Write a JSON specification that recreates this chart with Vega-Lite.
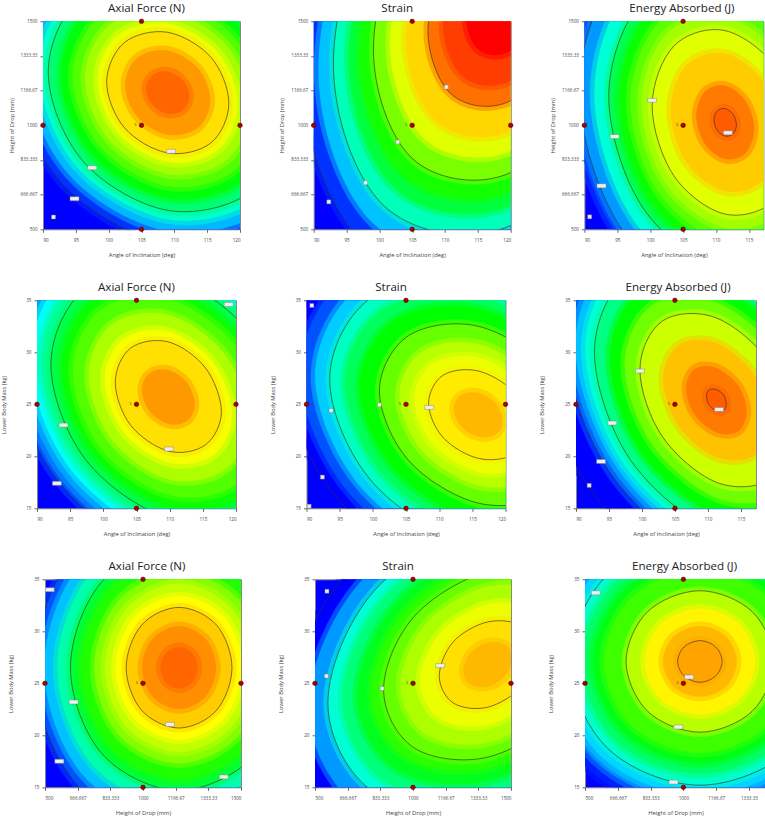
{"$schema":"https://vega.github.io/schema/vega-lite/v6.json","padding":{"left":0,"top":1.3,"right":0,"bottom":0},"spacing":22,
"config":{"view":{"fill":"#0000ff","stroke":"#888"},"title":{"font":"Open Sans","fontSize":11.6,"fontWeight":"normal","color":"#222","offset":4},"axis":{"grid":false,"labelFont":"Open Sans","labelFontSize":4.6,"labelColor":"#444","titleFont":"Open Sans","titleFontSize":5.8,"titleFontWeight":"normal","titleColor":"#444","tickSize":3,"tickColor":"#666","domain":false,"labelPadding":3,"labelAngle":0},"axisX":{"labelPadding":5,"titlePadding":10}},
"datasets":{
"p1":[
{"v":0.05,"x":132.3,"y":1029},{"v":0.05,"x":125.5,"y":1579},{"v":0.05,"x":109,"y":1882},{"v":0.05,"x":92.5,"y":1760},{"v":0.05,"x":85.7,"y":1285},{"v":0.05,"x":92.5,"y":735},{"v":0.05,"x":109,"y":432},{"v":0.05,"x":125.5,"y":555},
{"v":0.18,"x":130.5,"y":1040},{"v":0.18,"x":124.2,"y":1546},{"v":0.18,"x":109,"y":1824},{"v":0.18,"x":93.8,"y":1711},{"v":0.18,"x":87.5,"y":1274},{"v":0.18,"x":93.8,"y":768},{"v":0.18,"x":109,"y":490},{"v":0.18,"x":124.2,"y":603},
{"v":0.3,"x":128.6,"y":1050},{"v":0.3,"x":122.9,"y":1512},{"v":0.3,"x":109,"y":1766},{"v":0.3,"x":95.1,"y":1663},{"v":0.3,"x":89.4,"y":1264},{"v":0.3,"x":95.1,"y":802},{"v":0.3,"x":109,"y":548},{"v":0.3,"x":122.9,"y":651},
{"v":0.39,"x":127.2,"y":1058},{"v":0.39,"x":121.9,"y":1487},{"v":0.39,"x":109,"y":1723},{"v":0.39,"x":96.1,"y":1627},{"v":0.39,"x":90.8,"y":1256},{"v":0.39,"x":96.1,"y":827},{"v":0.39,"x":109,"y":591},{"v":0.39,"x":121.9,"y":687},
{"v":0.49,"x":125.3,"y":1068},{"v":0.49,"x":120.6,"y":1453},{"v":0.49,"x":109,"y":1665},{"v":0.49,"x":97.4,"y":1579},{"v":0.49,"x":92.7,"y":1246},{"v":0.49,"x":97.4,"y":861},{"v":0.49,"x":109,"y":649},{"v":0.49,"x":120.6,"y":735},
{"v":0.58,"x":123.5,"y":1078},{"v":0.58,"x":119.2,"y":1419},{"v":0.58,"x":109,"y":1607},{"v":0.58,"x":98.8,"y":1531},{"v":0.58,"x":94.5,"y":1236},{"v":0.58,"x":98.8,"y":895},{"v":0.58,"x":109,"y":707},{"v":0.58,"x":119.2,"y":783},
{"v":0.66,"x":121.6,"y":1088},{"v":0.66,"x":117.9,"y":1385},{"v":0.66,"x":109,"y":1549},{"v":0.66,"x":100.1,"y":1482},{"v":0.66,"x":96.4,"y":1226},{"v":0.66,"x":100.1,"y":929},{"v":0.66,"x":109,"y":765},{"v":0.66,"x":117.9,"y":832},
{"v":0.73,"x":119.7,"y":1098},{"v":0.73,"x":116.6,"y":1351},{"v":0.73,"x":109,"y":1491},{"v":0.73,"x":101.4,"y":1434},{"v":0.73,"x":98.3,"y":1216},{"v":0.73,"x":101.4,"y":963},{"v":0.73,"x":109,"y":823},{"v":0.73,"x":116.6,"y":880},
{"v":0.78,"x":118.3,"y":1106},{"v":0.78,"x":115.6,"y":1326},{"v":0.78,"x":109,"y":1447},{"v":0.78,"x":102.4,"y":1398},{"v":0.78,"x":99.7,"y":1208},{"v":0.78,"x":102.4,"y":988},{"v":0.78,"x":109,"y":867},{"v":0.78,"x":115.6,"y":916},
{"v":0.85,"x":115.5,"y":1121},{"v":0.85,"x":113.6,"y":1275},{"v":0.85,"x":109,"y":1360},{"v":0.85,"x":104.4,"y":1326},{"v":0.85,"x":102.5,"y":1193},{"v":0.85,"x":104.4,"y":1039},{"v":0.85,"x":109,"y":954},{"v":0.85,"x":113.6,"y":988},
{"v":0.9,"x":112.3,"y":1139},{"v":0.9,"x":111.3,"y":1216},{"v":0.9,"x":109,"y":1259},{"v":0.9,"x":106.7,"y":1241},{"v":0.9,"x":105.7,"y":1175},{"v":0.9,"x":106.7,"y":1098},{"v":0.9,"x":109,"y":1055},{"v":0.9,"x":111.3,"y":1073}],
"p2":[
{"v":0.05,"x":149.7,"y":1923},{"v":0.05,"x":140.7,"y":2724},{"v":0.05,"x":119,"y":2853},{"v":0.05,"x":97.3,"y":2241},{"v":0.05,"x":88.3,"y":1245},{"v":0.05,"x":97.3,"y":444},{"v":0.05,"x":119,"y":315},{"v":0.05,"x":140.7,"y":927},
{"v":0.19,"x":147.3,"y":1898},{"v":0.19,"x":139,"y":2638},{"v":0.19,"x":119,"y":2758},{"v":0.19,"x":99,"y":2192},{"v":0.19,"x":90.7,"y":1270},{"v":0.19,"x":99,"y":530},{"v":0.19,"x":119,"y":410},{"v":0.19,"x":139,"y":976},
{"v":0.32,"x":145,"y":1872},{"v":0.32,"x":137.4,"y":2552},{"v":0.32,"x":119,"y":2662},{"v":0.32,"x":100.6,"y":2142},{"v":0.32,"x":93,"y":1296},{"v":0.32,"x":100.6,"y":616},{"v":0.32,"x":119,"y":506},{"v":0.32,"x":137.4,"y":1026},
{"v":0.44,"x":142.7,"y":1846},{"v":0.44,"x":135.8,"y":2466},{"v":0.44,"x":119,"y":2566},{"v":0.44,"x":102.2,"y":2092},{"v":0.44,"x":95.3,"y":1322},{"v":0.44,"x":102.2,"y":702},{"v":0.44,"x":119,"y":602},{"v":0.44,"x":135.8,"y":1076},
{"v":0.52,"x":141,"y":1827},{"v":0.52,"x":134.5,"y":2401},{"v":0.52,"x":119,"y":2494},{"v":0.52,"x":103.5,"y":2055},{"v":0.52,"x":97,"y":1341},{"v":0.52,"x":103.5,"y":767},{"v":0.52,"x":119,"y":674},{"v":0.52,"x":134.5,"y":1113},
{"v":0.62,"x":138.9,"y":1804},{"v":0.62,"x":133.1,"y":2324},{"v":0.62,"x":119,"y":2408},{"v":0.62,"x":104.9,"y":2011},{"v":0.62,"x":99.1,"y":1364},{"v":0.62,"x":104.9,"y":844},{"v":0.62,"x":119,"y":760},{"v":0.62,"x":133.1,"y":1157},
{"v":0.72,"x":136.4,"y":1776},{"v":0.72,"x":131.3,"y":2229},{"v":0.72,"x":119,"y":2303},{"v":0.72,"x":106.7,"y":1956},{"v":0.72,"x":101.6,"y":1392},{"v":0.72,"x":106.7,"y":939},{"v":0.72,"x":119,"y":865},{"v":0.72,"x":131.3,"y":1212},
{"v":0.79,"x":134,"y":1750},{"v":0.79,"x":129.6,"y":2143},{"v":0.79,"x":119,"y":2207},{"v":0.79,"x":108.4,"y":1906},{"v":0.79,"x":104,"y":1418},{"v":0.79,"x":108.4,"y":1025},{"v":0.79,"x":119,"y":961},{"v":0.79,"x":129.6,"y":1262},
{"v":0.89,"x":130.6,"y":1712},{"v":0.89,"x":127.2,"y":2014},{"v":0.89,"x":119,"y":2063},{"v":0.89,"x":110.8,"y":1832},{"v":0.89,"x":107.4,"y":1456},{"v":0.89,"x":110.8,"y":1154},{"v":0.89,"x":119,"y":1105},{"v":0.89,"x":127.2,"y":1336},
{"v":0.94,"x":128.3,"y":1686},{"v":0.94,"x":125.5,"y":1928},{"v":0.94,"x":119,"y":1967},{"v":0.94,"x":112.5,"y":1782},{"v":0.94,"x":109.7,"y":1482},{"v":0.94,"x":112.5,"y":1240},{"v":0.94,"x":119,"y":1201},{"v":0.94,"x":125.5,"y":1386},
{"v":1,"x":124.8,"y":1648},{"v":1,"x":123.1,"y":1799},{"v":1,"x":119,"y":1824},{"v":1,"x":114.9,"y":1708},{"v":1,"x":113.2,"y":1520},{"v":1,"x":114.9,"y":1369},{"v":1,"x":119,"y":1344},{"v":1,"x":123.1,"y":1460}],
"p3":[
{"v":0.07,"x":134.7,"y":850},{"v":0.07,"x":127.9,"y":1554},{"v":0.07,"x":111.4,"y":1940},{"v":0.07,"x":94.9,"y":1785},{"v":0.07,"x":88.1,"y":1178},{"v":0.07,"x":94.9,"y":474},{"v":0.07,"x":111.4,"y":88},{"v":0.07,"x":127.9,"y":243},
{"v":0.15,"x":133.6,"y":858},{"v":0.15,"x":127.1,"y":1528},{"v":0.15,"x":111.4,"y":1896},{"v":0.15,"x":95.7,"y":1748},{"v":0.15,"x":89.2,"y":1170},{"v":0.15,"x":95.7,"y":500},{"v":0.15,"x":111.4,"y":132},{"v":0.15,"x":127.1,"y":280},
{"v":0.29,"x":131.3,"y":874},{"v":0.29,"x":125.5,"y":1477},{"v":0.29,"x":111.4,"y":1808},{"v":0.29,"x":97.3,"y":1675},{"v":0.29,"x":91.5,"y":1154},{"v":0.29,"x":97.3,"y":551},{"v":0.29,"x":111.4,"y":220},{"v":0.29,"x":125.5,"y":353},
{"v":0.42,"x":129.1,"y":889},{"v":0.42,"x":123.9,"y":1425},{"v":0.42,"x":111.4,"y":1720},{"v":0.42,"x":98.9,"y":1601},{"v":0.42,"x":93.7,"y":1139},{"v":0.42,"x":98.9,"y":603},{"v":0.42,"x":111.4,"y":308},{"v":0.42,"x":123.9,"y":427},
{"v":0.51,"x":127.5,"y":901},{"v":0.51,"x":122.8,"y":1387},{"v":0.51,"x":111.4,"y":1653},{"v":0.51,"x":100,"y":1546},{"v":0.51,"x":95.3,"y":1127},{"v":0.51,"x":100,"y":641},{"v":0.51,"x":111.4,"y":375},{"v":0.51,"x":122.8,"y":482},
{"v":0.59,"x":125.8,"y":913},{"v":0.59,"x":121.6,"y":1348},{"v":0.59,"x":111.4,"y":1587},{"v":0.59,"x":101.2,"y":1491},{"v":0.59,"x":97,"y":1115},{"v":0.59,"x":101.2,"y":680},{"v":0.59,"x":111.4,"y":441},{"v":0.59,"x":121.6,"y":537},
{"v":0.66,"x":124.1,"y":924},{"v":0.66,"x":120.4,"y":1310},{"v":0.66,"x":111.4,"y":1521},{"v":0.66,"x":102.4,"y":1436},{"v":0.66,"x":98.7,"y":1104},{"v":0.66,"x":102.4,"y":718},{"v":0.66,"x":111.4,"y":507},{"v":0.66,"x":120.4,"y":592},
{"v":0.72,"x":122.5,"y":936},{"v":0.72,"x":119.2,"y":1271},{"v":0.72,"x":111.4,"y":1455},{"v":0.72,"x":103.6,"y":1381},{"v":0.72,"x":100.3,"y":1092},{"v":0.72,"x":103.6,"y":757},{"v":0.72,"x":111.4,"y":573},{"v":0.72,"x":119.2,"y":647},
{"v":0.8,"x":119.7,"y":955},{"v":0.8,"x":117.3,"y":1207},{"v":0.8,"x":111.4,"y":1345},{"v":0.8,"x":105.5,"y":1289},{"v":0.8,"x":103.1,"y":1073},{"v":0.8,"x":105.5,"y":821},{"v":0.8,"x":111.4,"y":683},{"v":0.8,"x":117.3,"y":739},
{"v":0.88,"x":115.8,"y":983},{"v":0.88,"x":114.5,"y":1117},{"v":0.88,"x":111.4,"y":1190},{"v":0.88,"x":108.3,"y":1161},{"v":0.88,"x":107,"y":1045},{"v":0.88,"x":108.3,"y":911},{"v":0.88,"x":111.4,"y":838},{"v":0.88,"x":114.5,"y":867},
{"v":0.91,"x":113.1,"y":1002},{"v":0.91,"x":112.6,"y":1053},{"v":0.91,"x":111.4,"y":1080},{"v":0.91,"x":110.2,"y":1069},{"v":0.91,"x":109.7,"y":1026},{"v":0.91,"x":110.2,"y":975},{"v":0.91,"x":111.4,"y":948},{"v":0.91,"x":112.6,"y":959}],
"p4":[
{"v":0.08,"x":133.5,"y":21.6},{"v":0.08,"x":126.5,"y":33.7},{"v":0.08,"x":109.8,"y":41.2},{"v":0.08,"x":93.1,"y":39.6},{"v":0.08,"x":86.1,"y":29.8},{"v":0.08,"x":93.1,"y":17.7},{"v":0.08,"x":109.8,"y":10.2},{"v":0.08,"x":126.5,"y":11.8},
{"v":0.16,"x":132.2,"y":21.8},{"v":0.16,"x":125.6,"y":33.3},{"v":0.16,"x":109.8,"y":40.4},{"v":0.16,"x":94,"y":38.8},{"v":0.16,"x":87.4,"y":29.6},{"v":0.16,"x":94,"y":18.1},{"v":0.16,"x":109.8,"y":11},{"v":0.16,"x":125.6,"y":12.6},
{"v":0.26,"x":130.6,"y":22.1},{"v":0.26,"x":124.5,"y":32.7},{"v":0.26,"x":109.8,"y":39.3},{"v":0.26,"x":95.1,"y":37.9},{"v":0.26,"x":89,"y":29.3},{"v":0.26,"x":95.1,"y":18.7},{"v":0.26,"x":109.8,"y":12.1},{"v":0.26,"x":124.5,"y":13.5},
{"v":0.35,"x":129,"y":22.3},{"v":0.35,"x":123.4,"y":32.2},{"v":0.35,"x":109.8,"y":38.3},{"v":0.35,"x":96.2,"y":37},{"v":0.35,"x":90.6,"y":29.1},{"v":0.35,"x":96.2,"y":19.2},{"v":0.35,"x":109.8,"y":13.1},{"v":0.35,"x":123.4,"y":14.4},
{"v":0.43,"x":127.5,"y":22.6},{"v":0.43,"x":122.3,"y":31.7},{"v":0.43,"x":109.8,"y":37.3},{"v":0.43,"x":97.3,"y":36.1},{"v":0.43,"x":92.1,"y":28.8},{"v":0.43,"x":97.3,"y":19.7},{"v":0.43,"x":109.8,"y":14.1},{"v":0.43,"x":122.3,"y":15.3},
{"v":0.51,"x":125.8,"y":22.9},{"v":0.51,"x":121.1,"y":31.1},{"v":0.51,"x":109.8,"y":36.2},{"v":0.51,"x":98.5,"y":35.1},{"v":0.51,"x":93.8,"y":28.5},{"v":0.51,"x":98.5,"y":20.3},{"v":0.51,"x":109.8,"y":15.2},{"v":0.51,"x":121.1,"y":16.3},
{"v":0.58,"x":124.2,"y":23.2},{"v":0.58,"x":120,"y":30.6},{"v":0.58,"x":109.8,"y":35.1},{"v":0.58,"x":99.6,"y":34.1},{"v":0.58,"x":95.4,"y":28.2},{"v":0.58,"x":99.6,"y":20.8},{"v":0.58,"x":109.8,"y":16.3},{"v":0.58,"x":120,"y":17.3},
{"v":0.67,"x":121.8,"y":23.6},{"v":0.67,"x":118.3,"y":29.8},{"v":0.67,"x":109.8,"y":33.6},{"v":0.67,"x":101.3,"y":32.7},{"v":0.67,"x":97.8,"y":27.8},{"v":0.67,"x":101.3,"y":21.6},{"v":0.67,"x":109.8,"y":17.8},{"v":0.67,"x":118.3,"y":18.7},
{"v":0.74,"x":119.4,"y":24},{"v":0.74,"x":116.6,"y":29},{"v":0.74,"x":109.8,"y":32},{"v":0.74,"x":103,"y":31.3},{"v":0.74,"x":100.2,"y":27.4},{"v":0.74,"x":103,"y":22.4},{"v":0.74,"x":109.8,"y":19.4},{"v":0.74,"x":116.6,"y":20.1},
{"v":0.78,"x":117.8,"y":24.3},{"v":0.78,"x":115.4,"y":28.5},{"v":0.78,"x":109.8,"y":31},{"v":0.78,"x":104.1,"y":30.4},{"v":0.78,"x":101.8,"y":27.1},{"v":0.78,"x":104.1,"y":23},{"v":0.78,"x":109.8,"y":20.5},{"v":0.78,"x":115.4,"y":21.1},
{"v":0.85,"x":113.8,"y":25},{"v":0.85,"x":112.6,"y":27.1},{"v":0.85,"x":109.8,"y":28.3},{"v":0.85,"x":107,"y":28},{"v":0.85,"x":105.8,"y":26.4},{"v":0.85,"x":107,"y":24.3},{"v":0.85,"x":109.8,"y":23.1},{"v":0.85,"x":112.6,"y":23.4}],
"p5":[
{"v":0,"x":145,"y":19.6},{"v":0,"x":136.5,"y":32.5},{"v":0,"x":115.9,"y":40.5},{"v":0,"x":95.3,"y":38.8},{"v":0,"x":86.8,"y":28.4},{"v":0,"x":95.3,"y":15.5},{"v":0,"x":115.9,"y":7.5},{"v":0,"x":136.5,"y":9.2},
{"v":0.08,"x":142.8,"y":19.9},{"v":0.08,"x":134.9,"y":31.9},{"v":0.08,"x":115.9,"y":39.2},{"v":0.08,"x":96.9,"y":37.6},{"v":0.08,"x":89,"y":28.1},{"v":0.08,"x":96.9,"y":16.1},{"v":0.08,"x":115.9,"y":8.8},{"v":0.08,"x":134.9,"y":10.4},
{"v":0.2,"x":140.5,"y":20.3},{"v":0.2,"x":133.3,"y":31.2},{"v":0.2,"x":115.9,"y":38},{"v":0.2,"x":98.5,"y":36.5},{"v":0.2,"x":91.3,"y":27.7},{"v":0.2,"x":98.5,"y":16.8},{"v":0.2,"x":115.9,"y":10},{"v":0.2,"x":133.3,"y":11.5},
{"v":0.31,"x":138.3,"y":20.6},{"v":0.31,"x":131.7,"y":30.6},{"v":0.31,"x":115.9,"y":36.7},{"v":0.31,"x":100.1,"y":35.4},{"v":0.31,"x":93.5,"y":27.4},{"v":0.31,"x":100.1,"y":17.4},{"v":0.31,"x":115.9,"y":11.3},{"v":0.31,"x":131.7,"y":12.6},
{"v":0.41,"x":136,"y":20.9},{"v":0.41,"x":130.1,"y":29.9},{"v":0.41,"x":115.9,"y":35.4},{"v":0.41,"x":101.7,"y":34.2},{"v":0.41,"x":95.8,"y":27.1},{"v":0.41,"x":101.7,"y":18.1},{"v":0.41,"x":115.9,"y":12.6},{"v":0.41,"x":130.1,"y":13.8},
{"v":0.5,"x":133.8,"y":21.3},{"v":0.5,"x":128.5,"y":29.3},{"v":0.5,"x":115.9,"y":34.2},{"v":0.5,"x":103.3,"y":33.1},{"v":0.5,"x":98,"y":26.7},{"v":0.5,"x":103.3,"y":18.7},{"v":0.5,"x":115.9,"y":13.8},{"v":0.5,"x":128.5,"y":14.9},
{"v":0.6,"x":130.8,"y":21.7},{"v":0.6,"x":126.4,"y":28.4},{"v":0.6,"x":115.9,"y":32.5},{"v":0.6,"x":105.4,"y":31.6},{"v":0.6,"x":101,"y":26.3},{"v":0.6,"x":105.4,"y":19.6},{"v":0.6,"x":115.9,"y":15.5},{"v":0.6,"x":126.4,"y":16.4},
{"v":0.68,"x":127.8,"y":22.2},{"v":0.68,"x":124.3,"y":27.5},{"v":0.68,"x":115.9,"y":30.8},{"v":0.68,"x":107.5,"y":30.1},{"v":0.68,"x":104,"y":25.8},{"v":0.68,"x":107.5,"y":20.5},{"v":0.68,"x":115.9,"y":17.2},{"v":0.68,"x":124.3,"y":17.9},
{"v":0.73,"x":125.6,"y":22.5},{"v":0.73,"x":122.8,"y":26.8},{"v":0.73,"x":115.9,"y":29.5},{"v":0.73,"x":109,"y":28.9},{"v":0.73,"x":106.2,"y":25.5},{"v":0.73,"x":109,"y":21.2},{"v":0.73,"x":115.9,"y":18.5},{"v":0.73,"x":122.8,"y":19.1},
{"v":0.77,"x":123.4,"y":22.9},{"v":0.77,"x":121.2,"y":26.2},{"v":0.77,"x":115.9,"y":28.2},{"v":0.77,"x":110.6,"y":27.8},{"v":0.77,"x":108.4,"y":25.1},{"v":0.77,"x":110.6,"y":21.8},{"v":0.77,"x":115.9,"y":19.8},{"v":0.77,"x":121.2,"y":20.2},
{"v":0.82,"x":119.6,"y":23.4},{"v":0.82,"x":118.5,"y":25.1},{"v":0.82,"x":115.9,"y":26.1},{"v":0.82,"x":113.3,"y":25.9},{"v":0.82,"x":112.2,"y":24.6},{"v":0.82,"x":113.3,"y":22.9},{"v":0.82,"x":115.9,"y":21.9},{"v":0.82,"x":118.5,"y":22.1}],
"p6":[
{"v":0,"x":138.6,"y":18.7},{"v":0,"x":130.6,"y":33.8},{"v":0,"x":111.3,"y":44},{"v":0,"x":92,"y":43.3},{"v":0,"x":84,"y":32.1},{"v":0,"x":92,"y":17},{"v":0,"x":111.3,"y":6.8},{"v":0,"x":130.6,"y":7.5},
{"v":0.1,"x":134.1,"y":19.8},{"v":0.1,"x":127.4,"y":32.4},{"v":0.1,"x":111.3,"y":40.9},{"v":0.1,"x":95.2,"y":40.3},{"v":0.1,"x":88.5,"y":31},{"v":0.1,"x":95.2,"y":18.4},{"v":0.1,"x":111.3,"y":9.9},{"v":0.1,"x":127.4,"y":10.5},
{"v":0.19,"x":132.7,"y":20.1},{"v":0.19,"x":126.4,"y":31.9},{"v":0.19,"x":111.3,"y":40},{"v":0.19,"x":96.2,"y":39.4},{"v":0.19,"x":89.9,"y":30.7},{"v":0.19,"x":96.2,"y":18.9},{"v":0.19,"x":111.3,"y":10.8},{"v":0.19,"x":126.4,"y":11.4},
{"v":0.29,"x":131.2,"y":20.5},{"v":0.29,"x":125.4,"y":31.5},{"v":0.29,"x":111.3,"y":38.9},{"v":0.29,"x":97.2,"y":38.4},{"v":0.29,"x":91.4,"y":30.3},{"v":0.29,"x":97.2,"y":19.3},{"v":0.29,"x":111.3,"y":11.9},{"v":0.29,"x":125.4,"y":12.4},
{"v":0.37,"x":129.8,"y":20.8},{"v":0.37,"x":124.4,"y":31.1},{"v":0.37,"x":111.3,"y":38},{"v":0.37,"x":98.2,"y":37.5},{"v":0.37,"x":92.8,"y":30},{"v":0.37,"x":98.2,"y":19.7},{"v":0.37,"x":111.3,"y":12.8},{"v":0.37,"x":124.4,"y":13.3},
{"v":0.5,"x":127.5,"y":21.4},{"v":0.5,"x":122.8,"y":30.4},{"v":0.5,"x":111.3,"y":36.4},{"v":0.5,"x":99.8,"y":36},{"v":0.5,"x":95.1,"y":29.4},{"v":0.5,"x":99.8,"y":20.4},{"v":0.5,"x":111.3,"y":14.4},{"v":0.5,"x":122.8,"y":14.8},
{"v":0.61,"x":125.2,"y":22},{"v":0.61,"x":121.1,"y":29.6},{"v":0.61,"x":111.3,"y":34.8},{"v":0.61,"x":101.5,"y":34.5},{"v":0.61,"x":97.4,"y":28.8},{"v":0.61,"x":101.5,"y":21.2},{"v":0.61,"x":111.3,"y":16},{"v":0.61,"x":121.1,"y":16.3},
{"v":0.7,"x":122.9,"y":22.5},{"v":0.7,"x":119.5,"y":28.9},{"v":0.7,"x":111.3,"y":33.3},{"v":0.7,"x":103.1,"y":33},{"v":0.7,"x":99.7,"y":28.3},{"v":0.7,"x":103.1,"y":21.9},{"v":0.7,"x":111.3,"y":17.5},{"v":0.7,"x":119.5,"y":17.8},
{"v":0.81,"x":119.4,"y":23.4},{"v":0.81,"x":117,"y":27.9},{"v":0.81,"x":111.3,"y":30.9},{"v":0.81,"x":105.6,"y":30.7},{"v":0.81,"x":103.2,"y":27.4},{"v":0.81,"x":105.6,"y":22.9},{"v":0.81,"x":111.3,"y":19.9},{"v":0.81,"x":117,"y":20.1},
{"v":0.88,"x":115.9,"y":24.3},{"v":0.88,"x":114.6,"y":26.8},{"v":0.88,"x":111.3,"y":28.5},{"v":0.88,"x":108,"y":28.4},{"v":0.88,"x":106.7,"y":26.5},{"v":0.88,"x":108,"y":24},{"v":0.88,"x":111.3,"y":22.3},{"v":0.88,"x":114.6,"y":22.4},
{"v":0.91,"x":112.8,"y":25},{"v":0.91,"x":112.4,"y":25.9},{"v":0.91,"x":111.3,"y":26.4},{"v":0.91,"x":110.2,"y":26.4},{"v":0.91,"x":109.8,"y":25.8},{"v":0.91,"x":110.2,"y":24.9},{"v":0.91,"x":111.3,"y":24.4},{"v":0.91,"x":112.4,"y":24.4}],
"p7":[
{"v":0.08,"x":1924,"y":26.5},{"v":0.08,"x":1707,"y":37.7},{"v":0.08,"x":1184,"y":42.3},{"v":0.08,"x":661,"y":37.7},{"v":0.08,"x":444,"y":26.5},{"v":0.08,"x":661,"y":15.3},{"v":0.08,"x":1184,"y":10.7},{"v":0.08,"x":1707,"y":15.3},
{"v":0.19,"x":1873,"y":26.5},{"v":0.19,"x":1671,"y":36.9},{"v":0.19,"x":1184,"y":41.2},{"v":0.19,"x":697,"y":36.9},{"v":0.19,"x":495,"y":26.5},{"v":0.19,"x":697,"y":16.1},{"v":0.19,"x":1184,"y":11.8},{"v":0.19,"x":1671,"y":16.1},
{"v":0.33,"x":1805,"y":26.5},{"v":0.33,"x":1623,"y":35.9},{"v":0.33,"x":1184,"y":39.7},{"v":0.33,"x":745,"y":35.9},{"v":0.33,"x":563,"y":26.5},{"v":0.33,"x":745,"y":17.1},{"v":0.33,"x":1184,"y":13.3},{"v":0.33,"x":1623,"y":17.1},
{"v":0.45,"x":1738,"y":26.5},{"v":0.45,"x":1576,"y":34.8},{"v":0.45,"x":1184,"y":38.3},{"v":0.45,"x":792,"y":34.8},{"v":0.45,"x":630,"y":26.5},{"v":0.45,"x":792,"y":18.2},{"v":0.45,"x":1184,"y":14.7},{"v":0.45,"x":1576,"y":18.2},
{"v":0.53,"x":1684,"y":26.5},{"v":0.53,"x":1537,"y":34},{"v":0.53,"x":1184,"y":37.2},{"v":0.53,"x":831,"y":34},{"v":0.53,"x":684,"y":26.5},{"v":0.53,"x":831,"y":19},{"v":0.53,"x":1184,"y":15.8},{"v":0.53,"x":1537,"y":19},
{"v":0.63,"x":1616,"y":26.5},{"v":0.63,"x":1490,"y":33},{"v":0.63,"x":1184,"y":35.7},{"v":0.63,"x":878,"y":33},{"v":0.63,"x":752,"y":26.5},{"v":0.63,"x":878,"y":20},{"v":0.63,"x":1184,"y":17.3},{"v":0.63,"x":1490,"y":20},
{"v":0.69,"x":1562,"y":26.5},{"v":0.69,"x":1451,"y":32.2},{"v":0.69,"x":1184,"y":34.6},{"v":0.69,"x":917,"y":32.2},{"v":0.69,"x":806,"y":26.5},{"v":0.69,"x":917,"y":20.8},{"v":0.69,"x":1184,"y":18.4},{"v":0.69,"x":1451,"y":20.8},
{"v":0.75,"x":1508,"y":26.5},{"v":0.75,"x":1413,"y":31.4},{"v":0.75,"x":1184,"y":33.4},{"v":0.75,"x":955,"y":31.4},{"v":0.75,"x":860,"y":26.5},{"v":0.75,"x":955,"y":21.6},{"v":0.75,"x":1184,"y":19.6},{"v":0.75,"x":1413,"y":21.6},
{"v":0.8,"x":1454,"y":26.5},{"v":0.8,"x":1375,"y":30.6},{"v":0.8,"x":1184,"y":32.3},{"v":0.8,"x":993,"y":30.6},{"v":0.8,"x":914,"y":26.5},{"v":0.8,"x":993,"y":22.4},{"v":0.8,"x":1184,"y":20.7},{"v":0.8,"x":1375,"y":22.4},
{"v":0.86,"x":1373,"y":26.5},{"v":0.86,"x":1318,"y":29.3},{"v":0.86,"x":1184,"y":30.5},{"v":0.86,"x":1050,"y":29.3},{"v":0.86,"x":995,"y":26.5},{"v":0.86,"x":1050,"y":23.7},{"v":0.86,"x":1184,"y":22.5},{"v":0.86,"x":1318,"y":23.7},
{"v":0.9,"x":1279,"y":26.5},{"v":0.9,"x":1251,"y":27.9},{"v":0.9,"x":1184,"y":28.5},{"v":0.9,"x":1117,"y":27.9},{"v":0.9,"x":1089,"y":26.5},{"v":0.9,"x":1117,"y":25.1},{"v":0.9,"x":1184,"y":24.5},{"v":0.9,"x":1251,"y":25.1}],
"p8":[
{"v":0,"x":2394,"y":31.4},{"v":0,"x":2099,"y":42.1},{"v":0,"x":1381,"y":43.8},{"v":0,"x":663,"y":35.6},{"v":0,"x":368,"y":22.2},{"v":0,"x":663,"y":11.5},{"v":0,"x":1381,"y":9.8},{"v":0,"x":2099,"y":18},
{"v":0.15,"x":2295,"y":30.9},{"v":0.15,"x":2029,"y":40.6},{"v":0.15,"x":1381,"y":42.1},{"v":0.15,"x":733,"y":34.8},{"v":0.15,"x":467,"y":22.7},{"v":0.15,"x":733,"y":13},{"v":0.15,"x":1381,"y":11.5},{"v":0.15,"x":2029,"y":18.8},
{"v":0.29,"x":2196,"y":30.5},{"v":0.29,"x":1959,"y":39.1},{"v":0.29,"x":1381,"y":40.5},{"v":0.29,"x":803,"y":33.9},{"v":0.29,"x":566,"y":23.1},{"v":0.29,"x":803,"y":14.5},{"v":0.29,"x":1381,"y":13.1},{"v":0.29,"x":1959,"y":19.7},
{"v":0.38,"x":2122,"y":30.1},{"v":0.38,"x":1906,"y":38},{"v":0.38,"x":1381,"y":39.2},{"v":0.38,"x":856,"y":33.3},{"v":0.38,"x":640,"y":23.5},{"v":0.38,"x":856,"y":15.6},{"v":0.38,"x":1381,"y":14.4},{"v":0.38,"x":1906,"y":20.3},
{"v":0.47,"x":2048,"y":29.8},{"v":0.47,"x":1854,"y":36.8},{"v":0.47,"x":1381,"y":38},{"v":0.47,"x":908,"y":32.6},{"v":0.47,"x":714,"y":23.8},{"v":0.47,"x":908,"y":16.8},{"v":0.47,"x":1381,"y":15.6},{"v":0.47,"x":1854,"y":21},
{"v":0.54,"x":1974,"y":29.5},{"v":0.54,"x":1801,"y":35.7},{"v":0.54,"x":1381,"y":36.7},{"v":0.54,"x":961,"y":32},{"v":0.54,"x":788,"y":24.1},{"v":0.54,"x":961,"y":17.9},{"v":0.54,"x":1381,"y":16.9},{"v":0.54,"x":1801,"y":21.6},
{"v":0.6,"x":1912,"y":29.2},{"v":0.6,"x":1757,"y":34.8},{"v":0.6,"x":1381,"y":35.7},{"v":0.6,"x":1005,"y":31.4},{"v":0.6,"x":850,"y":24.4},{"v":0.6,"x":1005,"y":18.8},{"v":0.6,"x":1381,"y":17.9},{"v":0.6,"x":1757,"y":22.2},
{"v":0.67,"x":1826,"y":28.8},{"v":0.67,"x":1696,"y":33.5},{"v":0.67,"x":1381,"y":34.3},{"v":0.67,"x":1066,"y":30.7},{"v":0.67,"x":936,"y":24.8},{"v":0.67,"x":1066,"y":20.1},{"v":0.67,"x":1381,"y":19.3},{"v":0.67,"x":1696,"y":22.9},
{"v":0.73,"x":1727,"y":28.4},{"v":0.73,"x":1626,"y":32},{"v":0.73,"x":1381,"y":32.6},{"v":0.73,"x":1136,"y":29.8},{"v":0.73,"x":1035,"y":25.2},{"v":0.73,"x":1136,"y":21.6},{"v":0.73,"x":1381,"y":21},{"v":0.73,"x":1626,"y":23.8},
{"v":0.78,"x":1628,"y":27.9},{"v":0.78,"x":1556,"y":30.5},{"v":0.78,"x":1381,"y":30.9},{"v":0.78,"x":1206,"y":29},{"v":0.78,"x":1134,"y":25.7},{"v":0.78,"x":1206,"y":23.1},{"v":0.78,"x":1381,"y":22.7},{"v":0.78,"x":1556,"y":24.7},
{"v":0.82,"x":1505,"y":27.4},{"v":0.82,"x":1469,"y":28.7},{"v":0.82,"x":1381,"y":28.9},{"v":0.82,"x":1293,"y":27.9},{"v":0.82,"x":1257,"y":26.2},{"v":0.82,"x":1293,"y":24.9},{"v":0.82,"x":1381,"y":24.7},{"v":0.82,"x":1469,"y":25.7}],
"p9":[
{"v":0.03,"x":1890,"y":27.1},{"v":0.03,"x":1654,"y":37.4},{"v":0.03,"x":1084,"y":41.7},{"v":0.03,"x":514,"y":37.4},{"v":0.03,"x":278,"y":27.1},{"v":0.03,"x":514,"y":16.8},{"v":0.03,"x":1084,"y":12.5},{"v":0.03,"x":1654,"y":16.8},
{"v":0.14,"x":1834,"y":27.1},{"v":0.14,"x":1614,"y":36.7},{"v":0.14,"x":1084,"y":40.7},{"v":0.14,"x":554,"y":36.7},{"v":0.14,"x":334,"y":27.1},{"v":0.14,"x":554,"y":17.5},{"v":0.14,"x":1084,"y":13.5},{"v":0.14,"x":1614,"y":17.5},
{"v":0.21,"x":1797,"y":27.1},{"v":0.21,"x":1588,"y":36.2},{"v":0.21,"x":1084,"y":40},{"v":0.21,"x":580,"y":36.2},{"v":0.21,"x":371,"y":27.1},{"v":0.21,"x":580,"y":18},{"v":0.21,"x":1084,"y":14.2},{"v":0.21,"x":1588,"y":18},
{"v":0.3,"x":1744,"y":27.1},{"v":0.3,"x":1550,"y":35.5},{"v":0.3,"x":1084,"y":39},{"v":0.3,"x":618,"y":35.5},{"v":0.3,"x":424,"y":27.1},{"v":0.3,"x":618,"y":18.7},{"v":0.3,"x":1084,"y":15.2},{"v":0.3,"x":1550,"y":18.7},
{"v":0.4,"x":1684,"y":27.1},{"v":0.4,"x":1508,"y":34.8},{"v":0.4,"x":1084,"y":37.9},{"v":0.4,"x":660,"y":34.8},{"v":0.4,"x":484,"y":27.1},{"v":0.4,"x":660,"y":19.4},{"v":0.4,"x":1084,"y":16.3},{"v":0.4,"x":1508,"y":19.4},
{"v":0.48,"x":1628,"y":27.1},{"v":0.48,"x":1468,"y":34},{"v":0.48,"x":1084,"y":36.9},{"v":0.48,"x":700,"y":34},{"v":0.48,"x":540,"y":27.1},{"v":0.48,"x":700,"y":20.2},{"v":0.48,"x":1084,"y":17.3},{"v":0.48,"x":1468,"y":20.2},
{"v":0.56,"x":1572,"y":27.1},{"v":0.56,"x":1429,"y":33.3},{"v":0.56,"x":1084,"y":35.9},{"v":0.56,"x":739,"y":33.3},{"v":0.56,"x":596,"y":27.1},{"v":0.56,"x":739,"y":20.9},{"v":0.56,"x":1084,"y":18.3},{"v":0.56,"x":1429,"y":20.9},
{"v":0.68,"x":1459,"y":27.1},{"v":0.68,"x":1349,"y":31.9},{"v":0.68,"x":1084,"y":33.9},{"v":0.68,"x":819,"y":31.9},{"v":0.68,"x":709,"y":27.1},{"v":0.68,"x":819,"y":22.3},{"v":0.68,"x":1084,"y":20.3},{"v":0.68,"x":1349,"y":22.3},
{"v":0.76,"x":1365,"y":27.1},{"v":0.76,"x":1283,"y":30.7},{"v":0.76,"x":1084,"y":32.2},{"v":0.76,"x":885,"y":30.7},{"v":0.76,"x":803,"y":27.1},{"v":0.76,"x":885,"y":23.5},{"v":0.76,"x":1084,"y":22},{"v":0.76,"x":1283,"y":23.5},
{"v":0.82,"x":1272,"y":27.1},{"v":0.82,"x":1217,"y":29.5},{"v":0.82,"x":1084,"y":30.5},{"v":0.82,"x":951,"y":29.5},{"v":0.82,"x":896,"y":27.1},{"v":0.82,"x":951,"y":24.7},{"v":0.82,"x":1084,"y":23.7},{"v":0.82,"x":1217,"y":24.7},
{"v":0.84,"x":1197,"y":27.1},{"v":0.84,"x":1164,"y":28.5},{"v":0.84,"x":1084,"y":29.1},{"v":0.84,"x":1004,"y":28.5},{"v":0.84,"x":971,"y":27.1},{"v":0.84,"x":1004,"y":25.7},{"v":0.84,"x":1084,"y":25.1},{"v":0.84,"x":1164,"y":25.7}]
},
"vconcat":[
{"spacing":-34,"hconcat":[{"width":1,"height":1,"data":{"values":[{"a":1}]},"mark":{"type":"point","opacity":0},"encoding":{},"view":{"fill":null,"stroke":null}},
{"bounds":"flush","spacing":73.7,"hconcat":[
{"width":197,"height":208,"title":{"text":"Axial Force (N)","dx":5},"data":{"name":"p1"},
"encoding":{"x":{"field":"x","type":"quantitative","scale":{"domain":[90,120],"nice":false,"zero":false},"title":"Angle of Inclination (deg)","axis":{"values":[90,95,100,105,110,115,120]}},"y":{"field":"y","type":"quantitative","scale":{"domain":[500,1500],"nice":false,"zero":false},"title":"Height of Drop (mm)","axis":{"values":[500,666.667,833.333,1000,1166.67,1333.33,1500],"labelExpr":"''+datum.value","titlePadding":6}}},
"layer":[{"mark":{"type":"line","order":null,"clip":true,"interpolate":"cardinal-closed","strokeWidth":9,"strokeOpacity":0.5},"encoding":{"fill":{"field":"v","type":"quantitative","scale":{"domain":[0,0.25,0.5,0.75,1],"range":["#0000ff","#00ffff","#00ff00","#ffff00","#ff0000"],"interpolate":"rgb"},"legend":null},"stroke":{"field":"v","type":"quantitative","scale":{"domain":[0,0.25,0.5,0.75,1],"range":["#0000ff","#00ffff","#00ff00","#ffff00","#ff0000"],"interpolate":"rgb"},"legend":null},"detail":{"field":"v"}}},
{"transform":[{"filter":{"field":"v","oneOf":[0.78,0.39,0.05]}}],"mark":{"type":"line","order":null,"clip":true,"interpolate":"cardinal-closed","stroke":"#303030","strokeWidth":0.8,"opacity":0.8},"encoding":{"detail":{"field":"v"}}},
{"data":{"values":[{"x":109.5,"y":875,"kind":"wide"},{"x":97.5,"y":796,"kind":"wide"},{"x":94.8,"y":647,"kind":"wide"},{"x":91.6,"y":559,"kind":"box"}]},"mark":{"type":"point","filled":true,"size":100,"color":"#eeeeee","stroke":"#777777","strokeWidth":0.4,"opacity":1},"encoding":{"shape":{"field":"kind","scale":{"domain":["wide","box"],"range":["M-0.9,-0.4H0.9V0.4H-0.9Z","M-0.4,-0.4H0.4V0.4H-0.4Z"]},"legend":null}}},
{"data":{"values":[{"x":90,"y":1000},{"x":105,"y":1000},{"x":120,"y":1000},{"x":105,"y":500},{"x":105,"y":1500}]},"mark":{"type":"point","filled":true,"size":22,"color":"#a80000","stroke":"#300000","strokeWidth":0.4,"opacity":1}},
{"data":{"values":[{"x":105,"y":1000,"n":"5"}]},"mark":{"type":"text","fontSize":3.5,"dx":-6,"color":"#333333"},"encoding":{"text":{"field":"n"}}}]},
{"width":197,"height":208,"title":{"text":"Strain","dx":-15},"data":{"name":"p2"},
"encoding":{"x":{"field":"x","type":"quantitative","scale":{"domain":[90,120],"nice":false,"zero":false},"title":"Angle of Inclination (deg)","axis":{"values":[90,95,100,105,110,115,120]}},"y":{"field":"y","type":"quantitative","scale":{"domain":[500,1500],"nice":false,"zero":false},"title":"Height of Drop (mm)","axis":{"values":[500,666.667,833.333,1000,1166.67,1333.33,1500],"labelExpr":"''+datum.value","titlePadding":6}}},
"layer":[{"mark":{"type":"line","order":null,"clip":true,"interpolate":"cardinal-closed","strokeWidth":9,"strokeOpacity":0.5},"encoding":{"fill":{"field":"v","type":"quantitative","scale":{"domain":[0,0.25,0.5,0.75,1],"range":["#0000ff","#00ffff","#00ff00","#ffff00","#ff0000"],"interpolate":"rgb"},"legend":null},"stroke":{"field":"v","type":"quantitative","scale":{"domain":[0,0.25,0.5,0.75,1],"range":["#0000ff","#00ffff","#00ff00","#ffff00","#ff0000"],"interpolate":"rgb"},"legend":null},"detail":{"field":"v"}}},
{"transform":[{"filter":{"field":"v","oneOf":[0.89,0.62,0.32,0.05]}}],"mark":{"type":"line","order":null,"clip":true,"interpolate":"cardinal-closed","stroke":"#303030","strokeWidth":0.8,"opacity":0.8},"encoding":{"detail":{"field":"v"}}},
{"data":{"values":[{"x":110.2,"y":1184,"kind":"box"},{"x":102.8,"y":920,"kind":"box"},{"x":97.9,"y":724,"kind":"box"},{"x":92.3,"y":632,"kind":"box"}]},"mark":{"type":"point","filled":true,"size":100,"color":"#eeeeee","stroke":"#777777","strokeWidth":0.4,"opacity":1},"encoding":{"shape":{"field":"kind","scale":{"domain":["wide","box"],"range":["M-0.9,-0.4H0.9V0.4H-0.9Z","M-0.4,-0.4H0.4V0.4H-0.4Z"]},"legend":null}}},
{"data":{"values":[{"x":90,"y":1000},{"x":105,"y":1000},{"x":120,"y":1000},{"x":105,"y":500},{"x":105,"y":1500}]},"mark":{"type":"point","filled":true,"size":22,"color":"#a80000","stroke":"#300000","strokeWidth":0.4,"opacity":1}},
{"data":{"values":[{"x":105,"y":1000,"n":"5"}]},"mark":{"type":"text","fontSize":3.5,"dx":-6,"color":"#333333"},"encoding":{"text":{"field":"n"}}}]},
{"width":179,"height":208,"title":{"text":"Energy Absorbed (J)","dx":8},"data":{"name":"p3"},
"encoding":{"x":{"field":"x","type":"quantitative","scale":{"domain":[90,117.2],"nice":false,"zero":false},"title":"Angle of Inclination (deg)","axis":{"values":[90,95,100,105,110,115]}},"y":{"field":"y","type":"quantitative","scale":{"domain":[500,1500],"nice":false,"zero":false},"title":"Height of Drop (mm)","axis":{"values":[500,666.667,833.333,1000,1166.67,1333.33,1500],"labelExpr":"''+datum.value","titlePadding":6}}},
"layer":[{"mark":{"type":"line","order":null,"clip":true,"interpolate":"cardinal-closed","strokeWidth":9,"strokeOpacity":0.5},"encoding":{"fill":{"field":"v","type":"quantitative","scale":{"domain":[0,0.25,0.5,0.75,1],"range":["#0000ff","#00ffff","#00ff00","#ffff00","#ff0000"],"interpolate":"rgb"},"legend":null},"stroke":{"field":"v","type":"quantitative","scale":{"domain":[0,0.25,0.5,0.75,1],"range":["#0000ff","#00ffff","#00ff00","#ffff00","#ff0000"],"interpolate":"rgb"},"legend":null},"detail":{"field":"v"}}},
{"transform":[{"filter":{"field":"v","oneOf":[0.91,0.72,0.42,0.15]}}],"mark":{"type":"line","order":null,"clip":true,"interpolate":"cardinal-closed","stroke":"#303030","strokeWidth":0.8,"opacity":0.8},"encoding":{"detail":{"field":"v"}}},
{"data":{"values":[{"x":111.8,"y":964,"kind":"wide"},{"x":100.3,"y":1120,"kind":"wide"},{"x":94.6,"y":946,"kind":"wide"},{"x":92.6,"y":709,"kind":"wide"},{"x":90.8,"y":560,"kind":"box"}]},"mark":{"type":"point","filled":true,"size":100,"color":"#eeeeee","stroke":"#777777","strokeWidth":0.4,"opacity":1},"encoding":{"shape":{"field":"kind","scale":{"domain":["wide","box"],"range":["M-0.9,-0.4H0.9V0.4H-0.9Z","M-0.4,-0.4H0.4V0.4H-0.4Z"]},"legend":null}}},
{"data":{"values":[{"x":90,"y":1000},{"x":105,"y":1000},{"x":105,"y":500},{"x":105,"y":1500}]},"mark":{"type":"point","filled":true,"size":22,"color":"#a80000","stroke":"#300000","strokeWidth":0.4,"opacity":1}},
{"data":{"values":[{"x":105,"y":1000,"n":"5"}]},"mark":{"type":"text","fontSize":3.5,"dx":-6,"color":"#333333"},"encoding":{"text":{"field":"n"}}}]}
]}]},
{"bounds":"flush","spacing":70.5,"hconcat":[
{"width":199,"height":208,"title":{"text":"Axial Force (N)"},"data":{"name":"p4"},
"encoding":{"x":{"field":"x","type":"quantitative","scale":{"domain":[90,120],"nice":false,"zero":false},"title":"Angle of Inclination (deg)","axis":{"values":[90,95,100,105,110,115,120]}},"y":{"field":"y","type":"quantitative","scale":{"domain":[15,35],"nice":false,"zero":false},"title":"Lower Body Mass (kg)","axis":{"values":[15,20,25,30,35],"titlePadding":19}}},
"layer":[{"mark":{"type":"line","order":null,"clip":true,"interpolate":"cardinal-closed","strokeWidth":9,"strokeOpacity":0.5},"encoding":{"fill":{"field":"v","type":"quantitative","scale":{"domain":[0,0.25,0.5,0.75,1],"range":["#0000ff","#00ffff","#00ff00","#ffff00","#ff0000"],"interpolate":"rgb"},"legend":null},"stroke":{"field":"v","type":"quantitative","scale":{"domain":[0,0.25,0.5,0.75,1],"range":["#0000ff","#00ffff","#00ff00","#ffff00","#ff0000"],"interpolate":"rgb"},"legend":null},"detail":{"field":"v"}}},
{"transform":[{"filter":{"field":"v","oneOf":[0.78,0.43,0.08]}}],"mark":{"type":"line","order":null,"clip":true,"interpolate":"cardinal-closed","stroke":"#303030","strokeWidth":0.8,"opacity":0.8},"encoding":{"detail":{"field":"v"}}},
{"data":{"values":[{"x":109.9,"y":20.7,"kind":"wide"},{"x":94,"y":23,"kind":"wide"},{"x":93,"y":17.4,"kind":"wide"},{"x":118.9,"y":34.6,"kind":"wide"}]},"mark":{"type":"point","filled":true,"size":100,"color":"#eeeeee","stroke":"#777777","strokeWidth":0.4,"opacity":1},"encoding":{"shape":{"field":"kind","scale":{"domain":["wide","box"],"range":["M-0.9,-0.4H0.9V0.4H-0.9Z","M-0.4,-0.4H0.4V0.4H-0.4Z"]},"legend":null}}},
{"data":{"values":[{"x":90,"y":25},{"x":105,"y":25},{"x":120,"y":25},{"x":105,"y":15},{"x":105,"y":35}]},"mark":{"type":"point","filled":true,"size":22,"color":"#a80000","stroke":"#300000","strokeWidth":0.4,"opacity":1}},
{"data":{"values":[{"x":105,"y":25,"n":"5"}]},"mark":{"type":"text","fontSize":3.5,"dx":-6,"color":"#333333"},"encoding":{"text":{"field":"n"}}}]},
{"width":199,"height":208,"title":{"text":"Strain","dx":-15},"data":{"name":"p5"},
"encoding":{"x":{"field":"x","type":"quantitative","scale":{"domain":[90,120],"nice":false,"zero":false},"title":"Angle of Inclination (deg)","axis":{"values":[90,95,100,105,110,115,120]}},"y":{"field":"y","type":"quantitative","scale":{"domain":[15,35],"nice":false,"zero":false},"title":"Lower Body Mass (kg)","axis":{"values":[15,20,25,30,35],"titlePadding":20}}},
"layer":[{"mark":{"type":"line","order":null,"clip":true,"interpolate":"cardinal-closed","strokeWidth":9,"strokeOpacity":0.5},"encoding":{"fill":{"field":"v","type":"quantitative","scale":{"domain":[0,0.25,0.5,0.75,1],"range":["#0000ff","#00ffff","#00ff00","#ffff00","#ff0000"],"interpolate":"rgb"},"legend":null},"stroke":{"field":"v","type":"quantitative","scale":{"domain":[0,0.25,0.5,0.75,1],"range":["#0000ff","#00ffff","#00ff00","#ffff00","#ff0000"],"interpolate":"rgb"},"legend":null},"detail":{"field":"v"}}},
{"transform":[{"filter":{"field":"v","oneOf":[0.77,0.6,0.31,0]}}],"mark":{"type":"line","order":null,"clip":true,"interpolate":"cardinal-closed","stroke":"#303030","strokeWidth":0.8,"opacity":0.8},"encoding":{"detail":{"field":"v"}}},
{"data":{"values":[{"x":101,"y":24.95,"kind":"box"},{"x":93.7,"y":24.4,"kind":"box"},{"x":92.4,"y":18,"kind":"box"},{"x":90.8,"y":34.5,"kind":"box"},{"x":90.4,"y":15.2,"kind":"box"},{"x":108.5,"y":24.7,"kind":"wide"}]},"mark":{"type":"point","filled":true,"size":100,"color":"#eeeeee","stroke":"#777777","strokeWidth":0.4,"opacity":1},"encoding":{"shape":{"field":"kind","scale":{"domain":["wide","box"],"range":["M-0.9,-0.4H0.9V0.4H-0.9Z","M-0.4,-0.4H0.4V0.4H-0.4Z"]},"legend":null}}},
{"data":{"values":[{"x":90,"y":25},{"x":105,"y":25},{"x":120,"y":25},{"x":105,"y":15},{"x":105,"y":35}]},"mark":{"type":"point","filled":true,"size":22,"color":"#a80000","stroke":"#300000","strokeWidth":0.4,"opacity":1}},
{"data":{"values":[{"x":105,"y":25,"n":"5"}]},"mark":{"type":"text","fontSize":3.5,"dx":-6,"color":"#333333"},"encoding":{"text":{"field":"n"}}}]},
{"width":180,"height":208,"title":{"text":"Energy Absorbed (J)","dx":12},"data":{"name":"p6"},
"encoding":{"x":{"field":"x","type":"quantitative","scale":{"domain":[90,117.3],"nice":false,"zero":false},"title":"Angle of Inclination (deg)","axis":{"values":[90,95,100,105,110,115]}},"y":{"field":"y","type":"quantitative","scale":{"domain":[15,35],"nice":false,"zero":false},"title":"Lower Body Mass (kg)","axis":{"values":[15,20,25,30,35],"titlePadding":20}}},
"layer":[{"mark":{"type":"line","order":null,"clip":true,"interpolate":"cardinal-closed","strokeWidth":9,"strokeOpacity":0.5},"encoding":{"fill":{"field":"v","type":"quantitative","scale":{"domain":[0,0.25,0.5,0.75,1],"range":["#0000ff","#00ffff","#00ff00","#ffff00","#ff0000"],"interpolate":"rgb"},"legend":null},"stroke":{"field":"v","type":"quantitative","scale":{"domain":[0,0.25,0.5,0.75,1],"range":["#0000ff","#00ffff","#00ff00","#ffff00","#ff0000"],"interpolate":"rgb"},"legend":null},"detail":{"field":"v"}}},
{"transform":[{"filter":{"field":"v","oneOf":[0.91,0.7,0.37,0.1,0]}}],"mark":{"type":"line","order":null,"clip":true,"interpolate":"cardinal-closed","stroke":"#303030","strokeWidth":0.8,"opacity":0.8},"encoding":{"detail":{"field":"v"}}},
{"data":{"values":[{"x":111.7,"y":24.5,"kind":"wide"},{"x":99.7,"y":28.2,"kind":"wide"},{"x":95.5,"y":23.2,"kind":"wide"},{"x":93.8,"y":19.5,"kind":"wide"},{"x":92,"y":17.2,"kind":"box"}]},"mark":{"type":"point","filled":true,"size":100,"color":"#eeeeee","stroke":"#777777","strokeWidth":0.4,"opacity":1},"encoding":{"shape":{"field":"kind","scale":{"domain":["wide","box"],"range":["M-0.9,-0.4H0.9V0.4H-0.9Z","M-0.4,-0.4H0.4V0.4H-0.4Z"]},"legend":null}}},
{"data":{"values":[{"x":90,"y":25},{"x":105,"y":25},{"x":105,"y":15},{"x":105,"y":35}]},"mark":{"type":"point","filled":true,"size":22,"color":"#a80000","stroke":"#300000","strokeWidth":0.4,"opacity":1}},
{"data":{"values":[{"x":105,"y":25,"n":"5"}]},"mark":{"type":"text","fontSize":3.5,"dx":-6,"color":"#333333"},"encoding":{"text":{"field":"n"}}}]}
]},
{"spacing":-34,"hconcat":[{"width":1,"height":1,"data":{"values":[{"a":1}]},"mark":{"type":"point","opacity":0},"encoding":{},"view":{"fill":null,"stroke":null}},
{"bounds":"flush","spacing":74,"hconcat":[
{"width":196,"height":208,"title":{"text":"Axial Force (N)","dx":4},"data":{"name":"p7"},
"encoding":{"x":{"field":"x","type":"quantitative","scale":{"domain":[500,1500],"nice":false,"zero":false},"title":"Height of Drop (mm)","axis":{"values":[500,666.667,833.333,1000,1166.67,1333.33,1500],"labelExpr":"''+datum.value"}},"y":{"field":"y","type":"quantitative","scale":{"domain":[15,35],"nice":false,"zero":false},"title":"Lower Body Mass (kg)","axis":{"values":[15,20,25,30,35],"titlePadding":20}}},
"layer":[{"mark":{"type":"line","order":null,"clip":true,"interpolate":"cardinal-closed","strokeWidth":9,"strokeOpacity":0.5},"encoding":{"fill":{"field":"v","type":"quantitative","scale":{"domain":[0,0.25,0.5,0.75,1],"range":["#0000ff","#00ffff","#00ff00","#ffff00","#ff0000"],"interpolate":"rgb"},"legend":null},"stroke":{"field":"v","type":"quantitative","scale":{"domain":[0,0.25,0.5,0.75,1],"range":["#0000ff","#00ffff","#00ff00","#ffff00","#ff0000"],"interpolate":"rgb"},"legend":null},"detail":{"field":"v"}}},
{"transform":[{"filter":{"field":"v","oneOf":[0.8,0.45,0.08]}}],"mark":{"type":"line","order":null,"clip":true,"interpolate":"cardinal-closed","stroke":"#303030","strokeWidth":0.8,"opacity":0.8},"encoding":{"detail":{"field":"v"}}},
{"data":{"values":[{"x":1138,"y":21.05,"kind":"wide"},{"x":646,"y":23.2,"kind":"wide"},{"x":573,"y":17.5,"kind":"wide"},{"x":524,"y":34,"kind":"wide"},{"x":1412,"y":16,"kind":"wide"}]},"mark":{"type":"point","filled":true,"size":100,"color":"#eeeeee","stroke":"#777777","strokeWidth":0.4,"opacity":1},"encoding":{"shape":{"field":"kind","scale":{"domain":["wide","box"],"range":["M-0.9,-0.4H0.9V0.4H-0.9Z","M-0.4,-0.4H0.4V0.4H-0.4Z"]},"legend":null}}},
{"data":{"values":[{"x":500,"y":25},{"x":1000,"y":25},{"x":1500,"y":25},{"x":1000,"y":15},{"x":1000,"y":35}]},"mark":{"type":"point","filled":true,"size":22,"color":"#a80000","stroke":"#300000","strokeWidth":0.4,"opacity":1}},
{"data":{"values":[{"x":1000,"y":25,"n":"5"}]},"mark":{"type":"text","fontSize":3.5,"dx":-6,"color":"#333333"},"encoding":{"text":{"field":"n"}}}]},
{"width":196,"height":208,"title":{"text":"Strain","dx":-15},"data":{"name":"p8"},
"encoding":{"x":{"field":"x","type":"quantitative","scale":{"domain":[500,1500],"nice":false,"zero":false},"title":"Height of Drop (mm)","axis":{"values":[500,666.667,833.333,1000,1166.67,1333.33,1500],"labelExpr":"''+datum.value"}},"y":{"field":"y","type":"quantitative","scale":{"domain":[15,35],"nice":false,"zero":false},"title":"Lower Body Mass (kg)","axis":{"values":[15,20,25,30,35],"titlePadding":20}}},
"layer":[{"mark":{"type":"line","order":null,"clip":true,"interpolate":"cardinal-closed","strokeWidth":9,"strokeOpacity":0.5},"encoding":{"fill":{"field":"v","type":"quantitative","scale":{"domain":[0,0.25,0.5,0.75,1],"range":["#0000ff","#00ffff","#00ff00","#ffff00","#ff0000"],"interpolate":"rgb"},"legend":null},"stroke":{"field":"v","type":"quantitative","scale":{"domain":[0,0.25,0.5,0.75,1],"range":["#0000ff","#00ffff","#00ff00","#ffff00","#ff0000"],"interpolate":"rgb"},"legend":null},"detail":{"field":"v"}}},
{"transform":[{"filter":{"field":"v","oneOf":[0.78,0.6,0.29,0]}}],"mark":{"type":"line","order":null,"clip":true,"interpolate":"cardinal-closed","stroke":"#303030","strokeWidth":0.8,"opacity":0.8},"encoding":{"detail":{"field":"v"}}},
{"data":{"values":[{"x":1139,"y":26.7,"kind":"wide"},{"x":842,"y":24.5,"kind":"box"},{"x":558,"y":25.7,"kind":"box"},{"x":561,"y":33.85,"kind":"box"}]},"mark":{"type":"point","filled":true,"size":100,"color":"#eeeeee","stroke":"#777777","strokeWidth":0.4,"opacity":1},"encoding":{"shape":{"field":"kind","scale":{"domain":["wide","box"],"range":["M-0.9,-0.4H0.9V0.4H-0.9Z","M-0.4,-0.4H0.4V0.4H-0.4Z"]},"legend":null}}},
{"data":{"values":[{"x":500,"y":25},{"x":1000,"y":25},{"x":1500,"y":25},{"x":1000,"y":15},{"x":1000,"y":35}]},"mark":{"type":"point","filled":true,"size":22,"color":"#a80000","stroke":"#300000","strokeWidth":0.4,"opacity":1}},
{"data":{"values":[{"x":1000,"y":25,"n":"5"}]},"mark":{"type":"text","fontSize":3.5,"dx":-6,"color":"#333333"},"encoding":{"text":{"field":"n"}}}]},
{"width":181,"height":208,"title":{"text":"Energy Absorbed (J)","dx":9},"data":{"name":"p9"},
"encoding":{"x":{"field":"x","type":"quantitative","scale":{"domain":[500,1420],"nice":false,"zero":false},"title":"Height of Drop (mm)","axis":{"values":[500,666.667,833.333,1000,1166.67,1333.33],"labelExpr":"''+datum.value"}},"y":{"field":"y","type":"quantitative","scale":{"domain":[15,35],"nice":false,"zero":false},"title":"Lower Body Mass (kg)","axis":{"values":[15,20,25,30,35],"titlePadding":20}}},
"layer":[{"mark":{"type":"line","order":null,"clip":true,"interpolate":"cardinal-closed","strokeWidth":9,"strokeOpacity":0.5},"encoding":{"fill":{"field":"v","type":"quantitative","scale":{"domain":[0,0.25,0.5,0.75,1],"range":["#0000ff","#00ffff","#00ff00","#ffff00","#ff0000"],"interpolate":"rgb"},"legend":null},"stroke":{"field":"v","type":"quantitative","scale":{"domain":[0,0.25,0.5,0.75,1],"range":["#0000ff","#00ffff","#00ff00","#ffff00","#ff0000"],"interpolate":"rgb"},"legend":null},"detail":{"field":"v"}}},
{"transform":[{"filter":{"field":"v","oneOf":[0.84,0.68,0.3]}}],"mark":{"type":"line","order":null,"clip":true,"interpolate":"cardinal-closed","stroke":"#303030","strokeWidth":0.8,"opacity":0.8},"encoding":{"detail":{"field":"v"}}},
{"data":{"values":[{"x":1029,"y":25.6,"kind":"wide"},{"x":974,"y":20.8,"kind":"wide"},{"x":950,"y":15.5,"kind":"wide"},{"x":555,"y":33.7,"kind":"wide"}]},"mark":{"type":"point","filled":true,"size":100,"color":"#eeeeee","stroke":"#777777","strokeWidth":0.4,"opacity":1},"encoding":{"shape":{"field":"kind","scale":{"domain":["wide","box"],"range":["M-0.9,-0.4H0.9V0.4H-0.9Z","M-0.4,-0.4H0.4V0.4H-0.4Z"]},"legend":null}}},
{"data":{"values":[{"x":500,"y":25},{"x":1000,"y":25},{"x":1000,"y":15},{"x":1000,"y":35}]},"mark":{"type":"point","filled":true,"size":22,"color":"#a80000","stroke":"#300000","strokeWidth":0.4,"opacity":1}},
{"data":{"values":[{"x":1000,"y":25,"n":"5"}]},"mark":{"type":"text","fontSize":3.5,"dx":-6,"color":"#333333"},"encoding":{"text":{"field":"n"}}}]}
]}]}
]}
